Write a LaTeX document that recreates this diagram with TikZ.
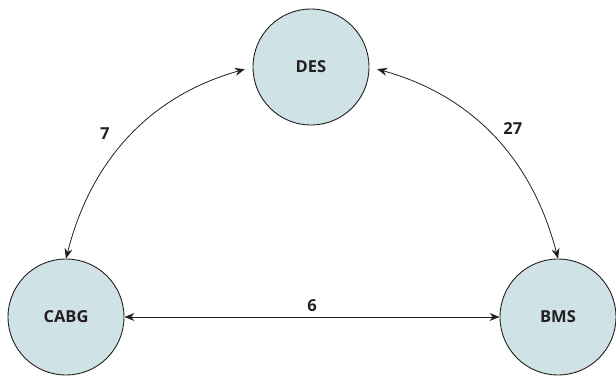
\documentclass[tikz,border=0pt]{standalone}
\usepackage{fontspec}
\setsansfont{Open Sans}
\usetikzlibrary{positioning, arrows.meta}
\definecolor{nodefill}{HTML}{CFE3E7}
\definecolor{linemain}{HTML}{231F20}

\begin{document}
\begin{tikzpicture}[
    x=1pt, y=1pt,
    on grid,
    h/.style={circle, draw=linemain, fill=nodefill, text=linemain,
              line width=0.9pt, minimum size=116pt, inner sep=0pt,
              font=\sffamily\bfseries\fontsize{16.5}{19}\selectfont},
    lbl/.style={text=linemain, font=\sffamily\bfseries\fontsize{16.5}{19}\selectfont},
    link/.style={>={Stealth[length=10pt, width=8pt]}, <->, linemain, line width=0.8pt}
  ]
  \useasboundingbox (0,0) rectangle (616,-375);
  \node[h] (des) at (311,-67) {DES};
  \node[h, below left=250pt and 245pt of des] (cabg) {CABG};
  \node[h, right=492pt of cabg] (bms) {BMS};
  \draw[link, shorten >=8pt] (cabg.north) to[bend left=30]
    node[lbl, left=18pt, yshift=2pt] (l7) {7} (des.west);
  \draw[link, shorten <=8pt] (des.east) to[bend left=30]
    node[lbl, right=8pt, yshift=7pt] (l27) {27} (bms.north);
  \draw[link] (cabg.east) -- node[lbl, above=2pt] (l6) {6} (bms.west);
\end{tikzpicture}
\end{document}
